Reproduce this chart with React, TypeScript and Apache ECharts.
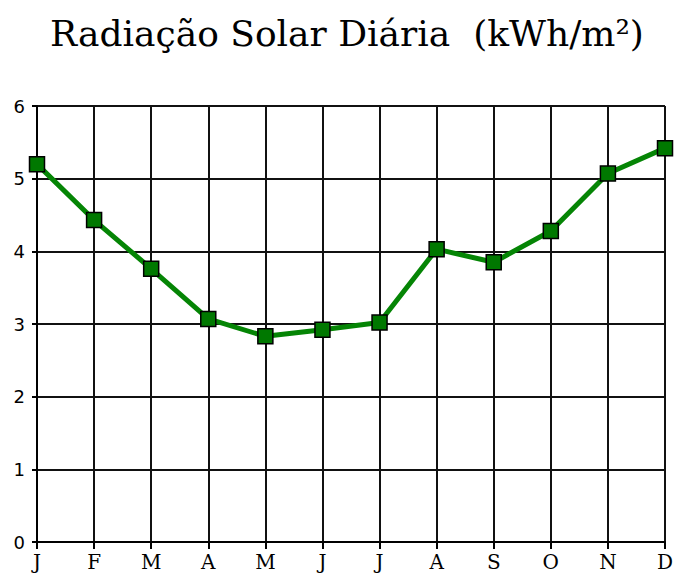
import React, { useEffect, useRef } from "react";
import * as echarts from "echarts";

const months = ["J", "F", "M", "A", "M", "J", "J", "A", "S", "O", "N", "D"];
const radiation = [5.2, 4.43, 3.76, 3.07, 2.83, 2.92, 3.02, 4.03, 3.85, 4.28, 5.07, 5.42];
const titleText = "Radiação Solar Diária  (kWh/m²)";

export default function App() {
  const ref = useRef<HTMLDivElement>(null);
  useEffect(() => {
    if (!ref.current) return;
    const chart = echarts.init(ref.current, null, { renderer: "svg" });
    chart.setOption({
      animation: false,
      backgroundColor: "#ffffff",
      title: {
        text: titleText,
        left: 347,
        top: 15,
        textAlign: "center",
        padding: 0,
        textStyle: {
          fontFamily: "DejaVu Serif",
          fontSize: 36,
          fontWeight: "normal",
          color: "#000",
        },
      },
      grid: { left: 37, right: 17, top: 106, bottom: 31, containLabel: false },
      xAxis: {
        type: "category",
        data: months,
        boundaryGap: false,
        axisLine: { show: true, lineStyle: { color: "#000", width: 2 } },
        axisTick: { show: true, length: 7, lineStyle: { color: "#000", width: 2 } },
        axisLabel: {
          margin: 10,
          color: "#000",
          fontFamily: "DejaVu Serif",
          fontSize: 20,
        },
        splitLine: { show: true, lineStyle: { color: "#111", width: 2 } },
      },
      yAxis: {
        type: "value",
        min: 0,
        max: 6,
        interval: 1,
        axisLine: { show: true, lineStyle: { color: "#000", width: 2 } },
        axisTick: { show: true, length: 5, lineStyle: { color: "#000", width: 2 } },
        axisLabel: {
          margin: 12,
          color: "#000",
          fontFamily: "DejaVu Sans",
          fontSize: 18,
        },
        splitLine: { show: true, lineStyle: { color: "#111", width: 2 } },
      },
      series: [
        {
          type: "line",
          data: radiation,
          symbol: "rect",
          symbolSize: 15,
          lineStyle: { color: "#058505", width: 5 },
          itemStyle: { color: "#007800", borderColor: "#000", borderWidth: 1.5 },
          z: 5,
        },
      ],
    });
    return () => chart.dispose();
  }, []);
  return <div ref={ref} style={{ width: 682, height: 573, position: "absolute", left: 0, top: 0 }} />;
}
